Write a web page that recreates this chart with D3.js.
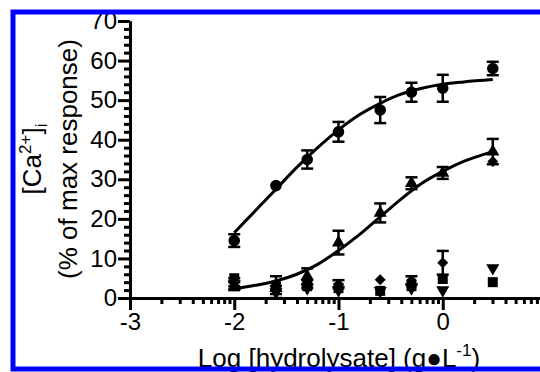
<!DOCTYPE html>
<html>
<head>
<meta charset="utf-8">
<script src="https://cdn.jsdelivr.net/npm/d3@7"></script>
<style>
  body { margin: 0; background: #fff; }
  svg { display: block; font-family: "Liberation Sans", Arial, sans-serif; }
</style>
</head>
<body>
<svg id="chart" width="540" height="372"></svg>
<script>
// log concentration of hydrolysate (g/L)
const logConc = [-2, -1.6, -1.3, -1, -0.6, -0.3, 0, 0.48];

// mean response (% of max) and SEM per series
const circleMean = [14.5, 28.4, 35, 42, 47.5, 52, 53, 58];
const circleErr = [1.6, 0, 2.3, 2.5, 3.3, 2.4, 3.4, 1.7];
const triUpMean = [3, 2.5, 5.5, 14, 21.5, 29, 31.6, 37];
const triUpErr = [1, 3, 2, 3, 2.4, 1.5, 1.5, 3.2];
const diamondMean = [4, 2, 3.5, 3.5, 4.6, 4.5, 8.9, 34.5];
const diamondErr = [1, 1, 1, 1, 0, 1, 3, 0];
const invTriMean = [3.5, 1.5, 2.5, 2, 1.8, 2.5, 2, 7.6];
const squareMean = [5, 3, 3, 2.5, 1.8, 3, 4.8, 4];

// fitted curves
const fitX = [-2, -1.8, -1.6, -1.4, -1.2, -1, -0.8, -0.6, -0.4, -0.2, 0, 0.2, 0.48];
const circleFit = [16.5, 22, 27.5, 33, 38, 42.5, 46.3, 49.2, 51.5, 53, 54, 54.6, 55.2];
const triUpFit = [2.3, 3.2, 4.3, 6, 8.5, 12, 16, 20.5, 25, 29, 32, 34.5, 37];

// axis ticks (1 falls outside the frame, so no label for it)
const xTicks = [-3, -2, -1, 0];
const yTicks = [0, 10, 20, 30, 40, 50, 60, 70];

const svg = d3.select('#chart');

const x = d3.scaleLinear().domain([-3, 1]).range([130, 547]);
const y = d3.scaleLinear().domain([0, 70]).range([298, 21]);

// log spaced minor ticks on x, every 2 on y
const xMinor = [];
for (let d = -3; d < 1; d++) {
  for (let k = 2; k <= 9; k++) xMinor.push(d + Math.log10(k));
}
const yMinor = d3.range(0, 71, 2).filter(v => v % 10 !== 0);

const styleAxis = (g) => {
  g.selectAll('path, line').attr('stroke', '#000').attr('stroke-width', 3);
  g.selectAll('text').attr('fill', '#000').style('font-size', '24px');
};

svg.append('g')
  .attr('transform', `translate(0, ${y(0)})`)
  .call(d3.axisBottom(x).tickValues(xMinor).tickSize(6).tickSizeOuter(0).tickFormat(''))
  .call(styleAxis);

svg.append('g')
  .attr('transform', `translate(0, ${y(0)})`)
  .call(d3.axisBottom(x).tickValues(xTicks).tickSize(12).tickSizeOuter(0).tickPadding(3)
    .tickFormat((d) => String(d)))
  .call(styleAxis);

svg.append('g')
  .attr('transform', `translate(${x(-3)}, 0)`)
  .call(d3.axisLeft(y).tickValues(yMinor).tickSize(6).tickSizeOuter(0).tickFormat(''))
  .call(styleAxis);

svg.append('g')
  .attr('transform', `translate(${x(-3)}, 0)`)
  .call(d3.axisLeft(y).tickValues(yTicks).tickSize(12).tickSizeOuter(0).tickPadding(1)
    .tickFormat((d) => String(d)))
  .call(styleAxis);

// fitted curves
const line = d3.line()
  .x((d) => x(d[0]))
  .y((d) => y(d[1]))
  .curve(d3.curveMonotoneX);

[circleFit, triUpFit].forEach((fit) => {
  svg.append('path')
    .datum(fitX.map((v, i) => [v, fit[i]]))
    .attr('d', line)
    .attr('fill', 'none')
    .attr('stroke', '#000')
    .attr('stroke-width', 3);
});

// error bars
function errorBars(means, errs) {
  const g = svg.append('g').attr('stroke', '#000');
  logConc.forEach((c, i) => {
    if (!errs[i]) return;
    const cx = x(c);
    const top = y(means[i] + errs[i]);
    const bot = y(Math.max(0, means[i] - errs[i]));
    g.append('line').attr('x1', cx).attr('x2', cx).attr('y1', top).attr('y2', bot).attr('stroke-width', 2.5);
    g.append('line').attr('x1', cx - 6).attr('x2', cx + 6).attr('y1', top).attr('y2', top).attr('stroke-width', 2.5);
    g.append('line').attr('x1', cx - 6).attr('x2', cx + 6).attr('y1', bot).attr('y2', bot).attr('stroke-width', 2.5);
  });
}
errorBars(circleMean, circleErr);
errorBars(triUpMean, triUpErr);
errorBars(diamondMean, diamondErr);

// markers
function markers(means, type, size, rotate) {
  svg.append('g').selectAll('path')
    .data(logConc.map((c, i) => [c, means[i]]))
    .join('path')
    .attr('d', d3.symbol().type(type).size(size))
    .attr('transform', (d) => `translate(${x(d[0])}, ${y(d[1])}) rotate(${rotate})`)
    .attr('fill', '#000');
}
markers(squareMean, d3.symbolSquare, 100, 0);
markers(invTriMean, d3.symbolTriangle, 75, 180);
markers(diamondMean, d3.symbolSquare, 60, 45);
markers(triUpMean, d3.symbolTriangle, 75, 0);
markers(circleMean, d3.symbolCircle, 105, 0);

// axis titles
const yTitle = svg.append('text')
  .attr('transform', 'translate(41, 159) rotate(-90)')
  .attr('text-anchor', 'middle')
  .style('font-size', '26px');
yTitle.append('tspan').text('[Ca');
yTitle.append('tspan').attr('dy', -10).style('font-size', '17px').text('2+');
yTitle.append('tspan').attr('dy', 10).text(']');
yTitle.append('tspan').attr('dy', 6).style('font-size', '17px').text('i');

svg.append('text')
  .attr('transform', 'translate(77, 159) rotate(-90)')
  .attr('text-anchor', 'middle')
  .style('font-size', '26px')
  .text('(% of max response)');

const xTitle = svg.append('text')
  .attr('x', 339)
  .attr('y', 367)
  .attr('text-anchor', 'middle')
  .style('font-size', '26px');
xTitle.append('tspan').text('Log [hydrolysate] (g\u25CFL');
xTitle.append('tspan').attr('dy', -11).style('font-size', '17px').text('-1');
xTitle.append('tspan').attr('dy', 11).text(')');

// blue frame
svg.append('rect')
  .attr('x', 13)
  .attr('y', 12)
  .attr('width', 540)
  .attr('height', 357)
  .attr('fill', 'none')
  .attr('stroke', '#0000ff')
  .attr('stroke-width', 5);
</script>
</body>
</html>
